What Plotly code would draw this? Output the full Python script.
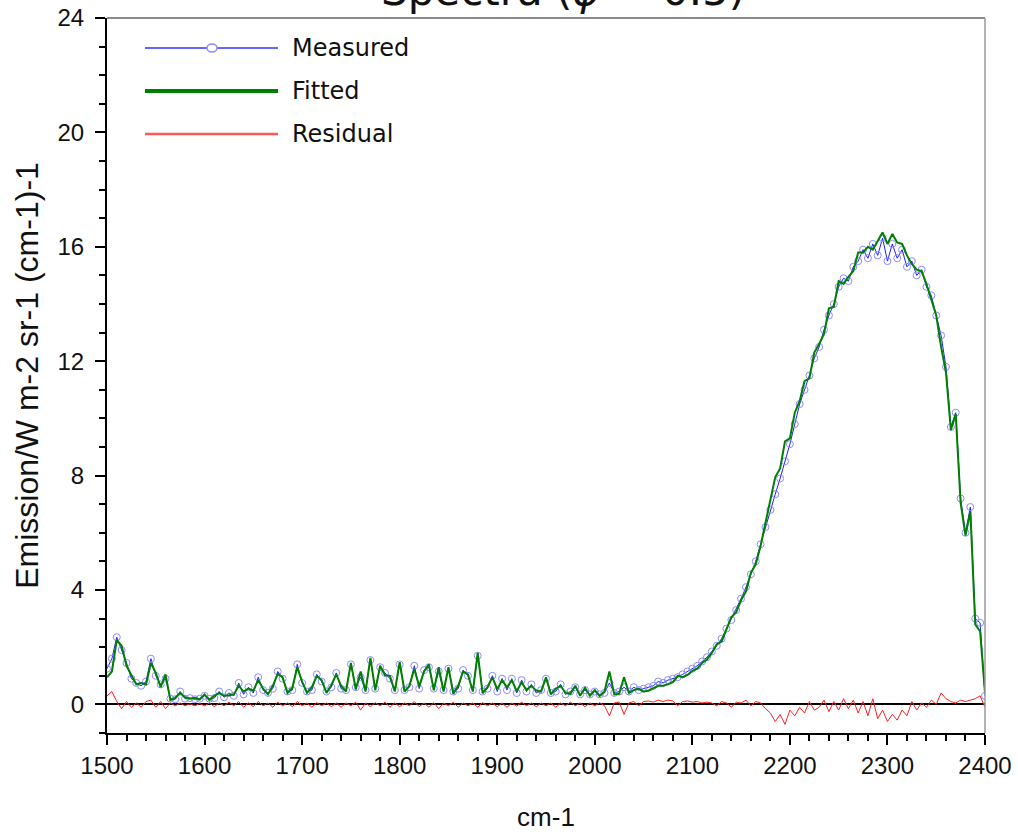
import numpy as np
import plotly.graph_objects as go

# Wavenumber grid (cm-1), every 5 cm-1
wavenumber = list(range(1500, 2401, 5))

# Measured emission (W m-2 sr-1 (cm-1)-1)
measured = [
    # 1500-1595
    1.25, 1.6, 2.35, 1.9, 1.45, 0.9, 0.75, 0.65, 0.8, 1.6, 1.0, 0.7, 0.9, 0.2, 0.18, 0.45, 0.2, 0.22, 0.18, 0.2,
    # 1600-1695
    0.3, 0.2, 0.22, 0.45, 0.25, 0.4, 0.3, 0.75, 0.35, 0.6, 0.4, 0.95, 0.5, 0.4, 0.55, 1.15, 0.9, 0.45, 0.5, 1.4,
    # 1700-1795
    0.75, 0.45, 0.5, 1.05, 0.8, 0.45, 0.6, 1.1, 0.55, 0.5, 1.4, 0.6, 0.95, 0.5, 1.55, 0.55, 1.3, 1.1, 0.9, 0.5,
    # 1800-1895
    1.4, 0.5, 0.6, 1.35, 0.55, 1.2, 1.3, 0.55, 1.15, 0.5, 1.25, 0.45, 0.55, 1.2, 1.0, 0.5, 1.7, 0.45, 0.55, 1.0,
    # 1900-1995
    0.45, 0.9, 0.5, 0.9, 0.4, 0.85, 0.45, 0.7, 0.4, 0.5, 0.9, 0.4, 0.45, 0.7, 0.35, 0.45, 0.6, 0.35, 0.5, 0.35,
    # 2000-2095
    0.45, 0.35, 0.4, 0.75, 0.4, 0.45, 0.6, 0.45, 0.6, 0.5, 0.55, 0.6, 0.65, 0.8, 0.75, 0.85, 0.9, 0.95, 1.05, 1.15,
    # 2100-2195
    1.25, 1.35, 1.5, 1.65, 1.85, 2.05, 2.3, 2.65, 2.95, 3.3, 3.7, 4.1, 4.55, 5.0, 5.6, 6.2, 6.8, 7.35, 7.9, 8.5,
    # 2200-2295
    9.1, 9.8, 10.5, 11.0, 11.5, 12.1, 12.5, 13.1, 13.6, 14.0, 14.6, 14.9, 14.8, 15.3, 15.5, 15.9, 15.6, 16.1, 15.7, 16.3,
    # 2300-2395
    15.5, 16.1, 15.6, 15.9, 15.3, 15.5, 15.0, 15.2, 14.6, 14.3, 13.6, 12.9, 11.8, 9.7, 10.2, 7.2, 6.0, 6.9, 3.0, 2.85,
    # 2400
    0.3,
]

# Residual (measured - fitted)
residual = [
    # 1500-1595
    0.3, 0.45, 0.1, -0.15, 0.1, -0.1, 0.05, -0.1, 0.1, 0.15, -0.1, 0.1, -0.15, 0.05, -0.05, 0.05, -0.05, 0.02, -0.05, 0.03,
    # 1600-1695
    -0.05, 0.05, -0.08, 0.05, -0.05, 0.08, -0.05, 0.1, -0.1, 0.05, -0.08, 0.1, -0.05, 0.05, -0.1, 0.08, -0.05, 0.05, -0.08, 0.1,
    # 1700-1795
    -0.05, 0.05, -0.1, 0.06, -0.05, 0.05, -0.08, 0.05, -0.1, 0.05, -0.05, 0.08, -0.2, 0.05, -0.08, 0.06, -0.05, 0.08, -0.1, 0.05,
    # 1800-1895
    -0.08, 0.05, -0.05, 0.1, -0.08, 0.05, -0.1, 0.06, -0.15, 0.05, -0.05, 0.08, -0.1, 0.05, -0.05, 0.05, -0.1, 0.06, -0.05, 0.05,
    # 1900-1995
    -0.08, 0.05, -0.1, 0.05, -0.06, 0.08, -0.05, 0.05, -0.08, 0.05, -0.05, 0.05, -0.1, 0.05, -0.05, 0.08, -0.05, 0.05, -0.08, 0.05,
    # 2000-2095
    -0.05, 0.06, -0.05, -0.4, 0.05, 0.08, -0.35, 0.05, 0.1, -0.05, 0.1, 0.12, 0.08, 0.15, 0.1, 0.15, 0.12, -0.05, 0.1, 0.12,
    # 2100-2195
    0.08, 0.1, 0.05, 0.08, 0.05, -0.05, 0.1, 0.05, -0.1, 0.08, 0.05, 0.15, -0.05, 0.1, 0.05, -0.15, -0.3, -0.6, -0.35, -0.7,
    # 2200-2295
    -0.2, -0.4, -0.1, -0.3, 0.1, -0.2, -0.1, 0.15, -0.25, 0.1, -0.2, 0.2, -0.15, 0.15, -0.3, 0.1, -0.4, 0.2, -0.5, -0.2,
    # 2300-2395
    -0.6, -0.35, -0.55, -0.2, -0.4, 0.1, -0.2, 0.05, -0.1, 0.15, 0.0, 0.4, 0.2, 0.1, 0.05, 0.15, 0.1, 0.15, 0.2, 0.3,
    # 2400
    -0.1,
]

fitted = list(np.array(measured) - np.array(residual))

series_names = ["Measured", "Fitted", "Residual"]
series_colors = ["#1f1fff", "#008000", "#ff2020"]
x_ticks = [1500, 1600, 1700, 1800, 1900, 2000, 2100, 2200, 2300, 2400]
y_ticks = [0, 4, 8, 12, 16, 20, 24]

TICK_FONT = dict(family="Liberation Sans, Arial, sans-serif", size=24, color="#111111")

fig = go.Figure()
fig.add_trace(go.Scatter(
    x=wavenumber, y=measured, mode="lines+markers", name=series_names[0],
    line=dict(color=series_colors[0], width=1),
    marker=dict(symbol="circle-open", size=7, color="#8c8cff", line=dict(width=1)),
    showlegend=False,
))
fig.add_trace(go.Scatter(
    x=wavenumber, y=fitted, mode="lines", name=series_names[1],
    line=dict(color=series_colors[1], width=2), showlegend=False,
))
fig.add_trace(go.Scatter(
    x=wavenumber, y=residual, mode="lines", name=series_names[2],
    line=dict(color=series_colors[2], width=1), showlegend=False,
))

# Plot area at x 107..985, y 18..733 of the 1018x832 window
W, H = 1018, 832
L, T = 107, 18
R = W - 985
B = H - 733
pw, ph = W - L - R, H - T - B


def px(xr):
    return (xr - L) / pw


def py(yr):
    return (H - B - yr) / ph


shapes = [
    dict(type="line", xref="paper", yref="paper", x0=0, x1=1, y0=1, y1=1,
         line=dict(color="#8a8a8a", width=2)),
    dict(type="line", xref="paper", yref="paper", x0=1, x1=1, y0=0, y1=1,
         line=dict(color="#9a9a9a", width=1.5)),
]
annotations = []

legend_rows = [48, 91, 134]
legend_widths = [1.5, 4, 2.5]
legend_line_colors = ["#3333ff", "#008000", "#ff5555"]
for name, yrow, lw, lc in zip(series_names, legend_rows, legend_widths, legend_line_colors):
    shapes.append(dict(type="line", xref="paper", yref="paper",
                       x0=px(145), x1=px(278), y0=py(yrow), y1=py(yrow),
                       line=dict(color=lc, width=lw)))
    annotations.append(dict(text=name, xref="paper", yref="paper", x=px(290), y=py(yrow),
                            xanchor="left", yanchor="middle", showarrow=False,
                            font=dict(family="DejaVu Sans, Verdana, sans-serif", size=24, color="#111111")))
# marker on Measured legend line
shapes.append(dict(type="circle", xref="paper", yref="paper", xsizemode="pixel", ysizemode="pixel",
                   xanchor=px(212), yanchor=py(legend_rows[0]), x0=-5, x1=5, y0=-4, y1=4,
                   line=dict(color="#8c8cff", width=1.5), fillcolor="white"))

# Title (partly cut off at the top of the picture, as in the reference)
annotations.append(dict(text="Spectra (<i>ϕ</i> = 0.5)", xref="paper", yref="paper",
                        x=px(563), y=py(17), xanchor="center", yanchor="bottom", showarrow=False,
                        font=dict(family="DejaVu Sans, Verdana, sans-serif", size=42, color="#111111")))

fig.update_layout(
    width=W, height=H,
    margin=dict(l=L, r=R, t=T, b=B, autoexpand=False),
    paper_bgcolor="white", plot_bgcolor="white",
    shapes=shapes, annotations=annotations,
    showlegend=False,
)
fig.update_xaxes(
    range=[1500, 2400], tickvals=x_ticks, ticks="outside", ticklen=10, tickwidth=2, tickcolor="black",
    showline=True, linecolor="black", linewidth=2, mirror=False, showgrid=False, zeroline=False,
    tickfont=TICK_FONT, ticklabeloverflow="allow",
    minor=dict(dtick=20, tick0=1500, ticks="outside", ticklen=6, tickwidth=2, tickcolor="black", showgrid=False),
    title=dict(text="cm-1", font=dict(family="Liberation Sans, Arial, sans-serif", size=26, color="#111111"),
               standoff=30),
    automargin=False,
)
fig.update_yaxes(
    range=[-1, 24], tickvals=y_ticks, ticks="outside", ticklen=10, tickwidth=2, tickcolor="black",
    showline=True, linecolor="black", linewidth=2, mirror=False, showgrid=False,
    zeroline=True, zerolinecolor="black", zerolinewidth=2,
    tickfont=TICK_FONT, ticklabelstandoff=6, ticklabeloverflow="allow",
    minor=dict(dtick=1, tick0=0, ticks="outside", ticklen=6, tickwidth=2, tickcolor="black", showgrid=False),
    title=dict(text="Emission/W m-2 sr-1 (cm-1)-1",
               font=dict(family="Liberation Sans, Arial, sans-serif", size=32, color="#111111"),
               standoff=9),
    automargin=False,
)

fig.write_html("out.html", config={"displayModeBar": False},
               post_script="document.body.style.margin='0';")
